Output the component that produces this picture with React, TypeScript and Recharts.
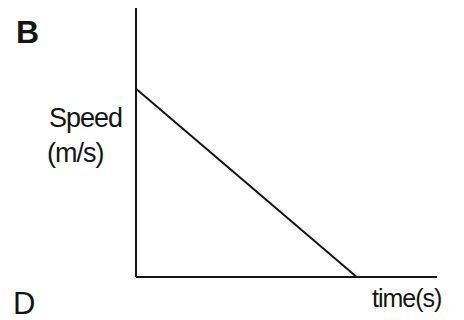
import { LineChart, Line, XAxis, YAxis } from 'recharts';

// speed falls linearly from a starting value to zero
const times = [0, 22];
const speeds = [7, 0];
const timeDomain = [0, 30];
const speedDomain = [0, 10];

const data = times.map((t, i) => ({ time: t, speed: speeds[i] }));

const ink = '#151515';
const font = '"Liberation Sans", Arial, sans-serif';

const txt = (style: React.CSSProperties): React.CSSProperties => ({
  position: 'absolute',
  fontFamily: font,
  color: ink,
  whiteSpace: 'nowrap',
  ...style,
});

export default function App() {
  return (
    <div style={{ position: 'absolute', left: 0, top: 0, width: 464, height: 320, background: '#fff', overflow: 'hidden' }}>
      <LineChart width={464} height={320} data={data} margin={{ top: 8, right: 27, bottom: 41, left: 134 }}>
        <XAxis
          dataKey="time"
          type="number"
          domain={timeDomain}
          tick={false}
          tickLine={false}
          height={2}
          axisLine={{ stroke: ink, strokeWidth: 2 }}
        />
        <YAxis
          type="number"
          domain={speedDomain}
          tick={false}
          tickLine={false}
          width={2}
          axisLine={{ stroke: ink, strokeWidth: 2 }}
        />
        <Line
          type="linear"
          dataKey="speed"
          stroke={ink}
          strokeWidth={2}
          dot={false}
          isAnimationActive={false}
        />
      </LineChart>
      <div style={txt({ left: 16, top: 16, fontSize: 32, lineHeight: '32px', fontWeight: 'bold' })}>B</div>
      <div style={txt({ left: 49, top: 105, fontSize: 27, lineHeight: '27px', letterSpacing: -1 })}>Speed</div>
      <div style={txt({ left: 47, top: 140, fontSize: 27, lineHeight: '27px', letterSpacing: -1 })}>(m/s)</div>
      <div style={txt({ left: 372, top: 286, fontSize: 25, lineHeight: '25px', letterSpacing: -1 })}>time(s)</div>
      <div style={txt({ left: 13, top: 288, fontSize: 31, lineHeight: '31px' })}>D</div>
    </div>
  );
}
